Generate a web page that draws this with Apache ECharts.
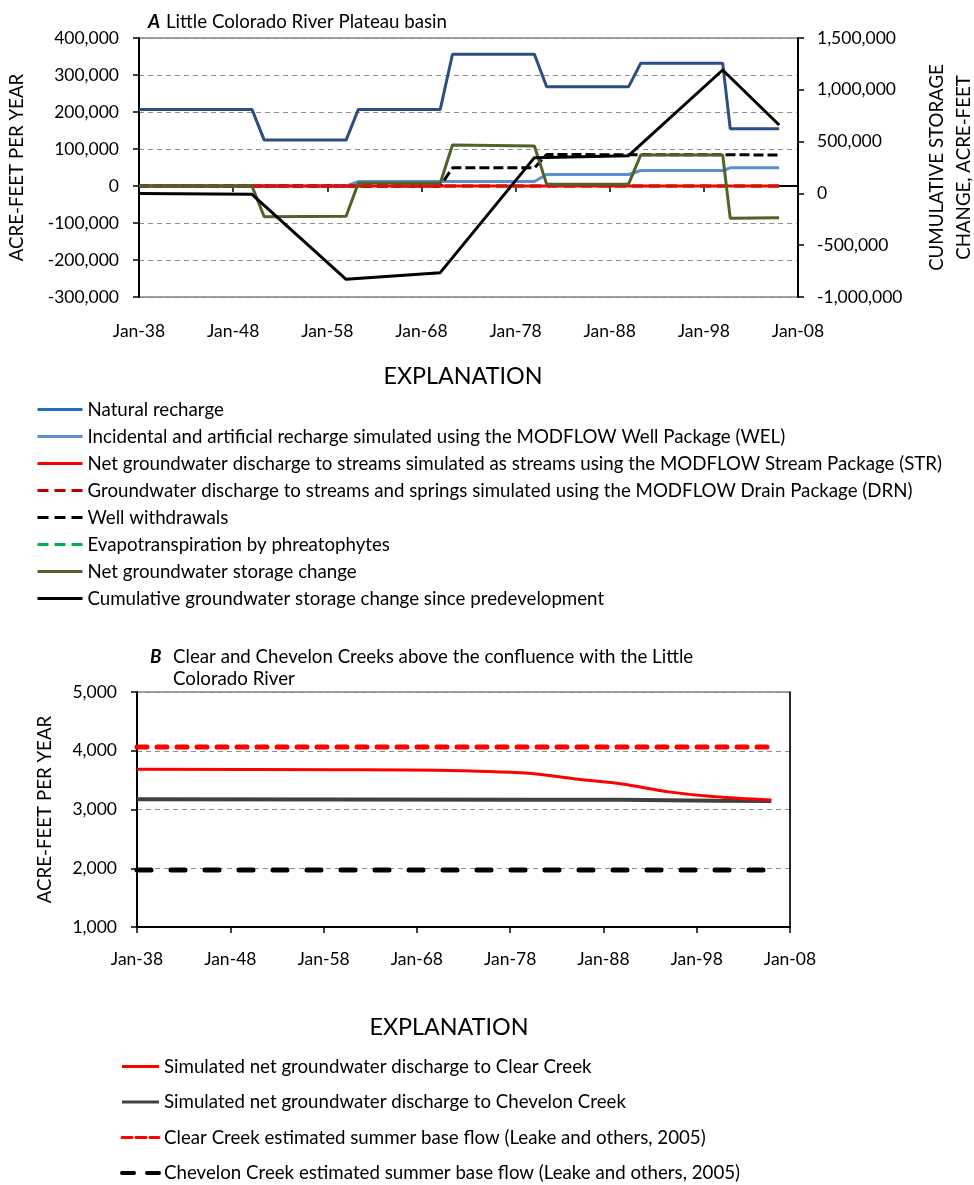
<!DOCTYPE html>
<html>
<head>
<meta charset="utf-8">
<title>Groundwater budget</title>
<script src="https://cdn.jsdelivr.net/npm/echarts@6/dist/echarts.min.js"></script>
<style>
  html, body { margin: 0; padding: 0; background: #fff; }
  #chart { width: 974px; height: 1185px; }
</style>
</head>
<body>
<div id="chart"></div>
<script>
// --- panel A: Little Colorado River Plateau basin, [year, acre-feet per year]
const naturalRecharge = [[1938, 207000], [1950, 207000], [1951.3, 124000], [1960, 124000], [1961.3, 207000], [1970, 207000], [1971.3, 356000], [1980, 356000], [1981.3, 268000], [1990, 268000], [1991.3, 332000], [2000, 332000], [2000.8, 155000], [2006, 155000]]
const incidentalRecharge = [[1938, 0], [1960, 0], [1961.3, 12000], [1980, 12000], [1981.3, 31000], [1990, 31000], [1991.3, 42000], [2000, 42000], [2000.8, 49000], [2006, 49000]]
const streamDischarge = [[1938, 0], [2006, 0]]
const drainDischarge = [[1938, 0], [2006, 0]]
const wellWithdrawals = [[1938, 0], [1970, 0], [1971.3, 49000], [1980, 49000], [1981.3, 85000], [2006, 84000]]
const evapotranspiration = [[1938, 0], [2006, 0]]
const netStorageChange = [[1938, 0], [1950, 0], [1951.3, -83000], [1960, -82000], [1961.3, 8000], [1970, 8000], [1971.3, 111000], [1980, 108000], [1981.3, 5000], [1990, 5000], [1991.3, 84000], [2000, 84000], [2000.8, -87000], [2006, -86000]]
// cumulative storage change, acre-feet (right axis)
const cumulativeStorage = [[1938, 0], [1950, -9000], [1960, -829000], [1970, -765000], [1980, 345000], [1990, 364000], [2000, 1191000], [2006, 660000]]

// --- panel B: Clear and Chevelon Creeks, [year, acre-feet per year]
const clearCreekSim = [[1938, 3684], [1960, 3676], [1970, 3668], [1980, 3616], [1985, 3520], [1990, 3434], [1995, 3300], [2000, 3215], [2006, 3160]]
const chevelonCreekSim = [[1938, 3175], [1960, 3172], [1980, 3168], [1990, 3165], [2000, 3150], [2006, 3145]]
const clearCreekBase = [[1938, 4064], [2006, 4064]]
const chevelonCreekBase = [[1938, 1970], [2006, 1970]]

const legendA = [
  'Natural recharge',
  'Incidental and artificial recharge simulated using the MODFLOW Well Package (WEL)',
  'Net groundwater discharge to streams simulated as streams using the MODFLOW Stream Package (STR)',
  'Groundwater discharge to streams and springs simulated using the MODFLOW Drain Package (DRN)',
  'Well withdrawals',
  'Evapotranspiration by phreatophytes',
  'Net groundwater storage change',
  'Cumulative groundwater storage change since predevelopment'
]
const legendB = [
  'Simulated net groundwater discharge to Clear Creek',
  'Simulated net groundwater discharge to Chevelon Creek',
  'Clear Creek estimated summer base flow (Leake and others, 2005)',
  'Chevelon Creek estimated summer base flow (Leake and others, 2005)'
]

const FONT = 'Lato'
const TXT = 18.7
const fmt = v => v.toLocaleString('en-US')
const yearLabel = v => 'Jan-' + String(v).slice(2)

const gridLine = { show: true, lineStyle: { color: '#8f8f8f', type: [5, 4], width: 1 } }
const axisBlack = { show: true, lineStyle: { color: '#000', width: 2 } }
const tickOut = { show: true, length: 6, lineStyle: { color: '#000', width: 1.5 } }
const tickLabel = { color: '#000', fontFamily: FONT, fontSize: 17.5 }
const noSymbol = { color: 'rgba(0,0,0,0)', borderColor: 'rgba(0,0,0,0)', borderWidth: 0 }

function xAxisFor(gridIndex, margin) {
  return {
    type: 'value', gridIndex, min: 1938, max: 2008, interval: 10,
    axisLine: axisBlack, axisTick: tickOut, splitLine: { show: false },
    axisLabel: Object.assign({ margin, formatter: yearLabel }, tickLabel)
  }
}

function line(name, data, color, width, extra) {
  return Object.assign({
    name, type: 'line', data, symbol: 'none', showSymbol: false,
    lineStyle: { color, width }, itemStyle: { color }
  }, extra || {})
}

// panel heading: bold italic letter in a fixed-width slot, so wrapped lines line up
function heading(left, top, slot, text) {
  return {
    left, top, text,
    textStyle: {
      fontFamily: FONT, fontSize: TXT, fontWeight: 'normal', color: '#000', lineHeight: 22,
      rich: { k: { width: slot, fontFamily: FONT, fontSize: TXT, fontWeight: 'bold', fontStyle: 'italic', color: '#000', lineHeight: 22 } }
    }
  }
}

const chart = echarts.init(document.getElementById('chart'))
chart.setOption({
  animation: false,
  backgroundColor: '#fff',
  textStyle: { fontFamily: FONT },
  title: [
    heading(143, 6, 18, '{k|A}Little Colorado River Plateau basin'),
    heading(145, 641, 23, '{k|B}Clear and Chevelon Creeks above the confluence with the Little\n{k| }Colorado River')
  ],
  graphic: [
    { type: 'text', x: 463, y: 376, style: { text: 'EXPLANATION', fontFamily: FONT, fontSize: 23.3, fill: '#000', align: 'center', verticalAlign: 'middle' } },
    { type: 'text', x: 449, y: 1027, style: { text: 'EXPLANATION', fontFamily: FONT, fontSize: 23.3, fill: '#000', align: 'center', verticalAlign: 'middle' } }
  ],
  legend: [
    {
      orient: 'vertical', left: 36, top: 400, height: 240, padding: 0, itemWidth: 45, itemHeight: 14, itemGap: 8,
      selectedMode: false, itemStyle: noSymbol,
      textStyle: { fontFamily: FONT, fontSize: TXT, color: '#000' },
      data: [
        { name: legendA[0], lineStyle: { color: '#1f6fc0', width: 3 } },
        { name: legendA[1], lineStyle: { color: '#5b8fd0', width: 3 } },
        { name: legendA[2], lineStyle: { color: '#ff0000', width: 3 } },
        { name: legendA[3], lineStyle: { color: '#c00000', width: 3, type: [11, 6] } },
        { name: legendA[4], lineStyle: { color: '#000', width: 3, type: [11, 6] } },
        { name: legendA[5], lineStyle: { color: '#00b050', width: 3, type: [11, 6] } },
        { name: legendA[6], lineStyle: { color: '#4f6228', width: 3 } },
        { name: legendA[7], lineStyle: { color: '#000', width: 3 } }
      ]
    },
    {
      orient: 'vertical', left: 120, top: 1057, height: 128, padding: 0, itemWidth: 37, itemHeight: 14, itemGap: 16.5,
      selectedMode: false, itemStyle: noSymbol,
      textStyle: { fontFamily: FONT, fontSize: TXT, color: '#000' },
      data: [
        { name: legendB[0], lineStyle: { color: '#ff0000', width: 3 } },
        { name: legendB[1], lineStyle: { color: '#404040', width: 3 } },
        { name: legendB[2], lineStyle: { color: '#ff0000', width: 3, type: [10, 4] } },
        { name: legendB[3], lineStyle: { color: '#000', width: 4, type: [12, 13] } }
      ]
    }
  ],
  grid: [
    { left: 139, right: 176, top: 38, height: 259, outerBoundsMode: 'none', show: true, borderColor: '#444', borderWidth: 1 },
    { left: 137, right: 184, top: 692, height: 235, outerBoundsMode: 'none', show: true, borderColor: '#444', borderWidth: 1 }
  ],
  xAxis: [xAxisFor(0, 25), xAxisFor(1, 23)],
  yAxis: [
    {
      type: 'value', gridIndex: 0, min: -300000, max: 400000, interval: 100000,
      axisLine: axisBlack, axisTick: tickOut, splitLine: gridLine,
      axisLabel: Object.assign({ margin: 20, formatter: fmt }, tickLabel),
      name: 'ACRE-FEET PER YEAR', nameLocation: 'middle', nameGap: 113, nameRotate: 90,
      nameTextStyle: { fontFamily: FONT, fontSize: TXT, color: '#000' }
    },
    {
      type: 'value', gridIndex: 0, position: 'right', min: -1000000, max: 1500000, interval: 500000,
      axisLine: axisBlack, axisTick: tickOut, splitLine: { show: false },
      axisLabel: Object.assign({ margin: 19, formatter: fmt }, tickLabel),
      name: 'CUMULATIVE STORAGE\nCHANGE, ACRE-FEET', nameLocation: 'middle', nameGap: 125, nameRotate: 90,
      nameTextStyle: { fontFamily: FONT, fontSize: TXT, color: '#000', lineHeight: 27 }
    },
    {
      type: 'value', gridIndex: 1, min: 1000, max: 5000, interval: 1000,
      axisLine: axisBlack, axisTick: tickOut, splitLine: gridLine,
      axisLabel: Object.assign({ margin: 20, formatter: fmt }, tickLabel),
      name: 'ACRE-FEET PER YEAR', nameLocation: 'middle', nameGap: 83, nameRotate: 90,
      nameTextStyle: { fontFamily: FONT, fontSize: TXT, color: '#000' }
    },
    {
      type: 'value', gridIndex: 1, position: 'right', min: 1000, max: 5000, interval: 1000,
      axisLine: { show: true, lineStyle: { color: '#000', width: 1.5 } },
      axisTick: { show: false }, axisLabel: { show: false }, splitLine: { show: false }
    }
  ],
  series: [
    line(legendA[3], drainDischarge, '#c00000', 3, { xAxisIndex: 0, yAxisIndex: 0, lineStyle: { color: '#c00000', width: 3, type: [11, 6] } }),
    line(legendA[5], evapotranspiration, '#00b050', 3, { xAxisIndex: 0, yAxisIndex: 0, lineStyle: { color: '#00b050', width: 3, type: [11, 6] } }),
    line(legendA[0], naturalRecharge, '#2b4f80', 3, { xAxisIndex: 0, yAxisIndex: 0 }),
    line(legendA[1], incidentalRecharge, '#5b8fd0', 3, { xAxisIndex: 0, yAxisIndex: 0 }),
    line(legendA[4], wellWithdrawals, '#000', 3, { xAxisIndex: 0, yAxisIndex: 0, lineStyle: { color: '#000', width: 3, type: [10, 4] } }),
    line(legendA[2], streamDischarge, '#ff0000', 3, { xAxisIndex: 0, yAxisIndex: 0 }),
    line(legendA[6], netStorageChange, '#4f6228', 3, { xAxisIndex: 0, yAxisIndex: 0 }),
    line(legendA[7], cumulativeStorage, '#000', 3, { xAxisIndex: 0, yAxisIndex: 1 }),

    line(legendB[2], clearCreekBase, '#ff0000', 5, { xAxisIndex: 1, yAxisIndex: 2, lineStyle: { color: '#ff0000', width: 5, type: [10, 10], cap: 'round' } }),
    line(legendB[3], chevelonCreekBase, '#000', 5, { xAxisIndex: 1, yAxisIndex: 2, lineStyle: { color: '#000', width: 5, type: [14, 20], cap: 'round' } }),
    line(legendB[1], chevelonCreekSim, '#404040', 4, { xAxisIndex: 1, yAxisIndex: 2 }),
    line(legendB[0], clearCreekSim, '#ff0000', 3, { xAxisIndex: 1, yAxisIndex: 2, smooth: 0.3 })
  ]
})
</script>
</body>
</html>
